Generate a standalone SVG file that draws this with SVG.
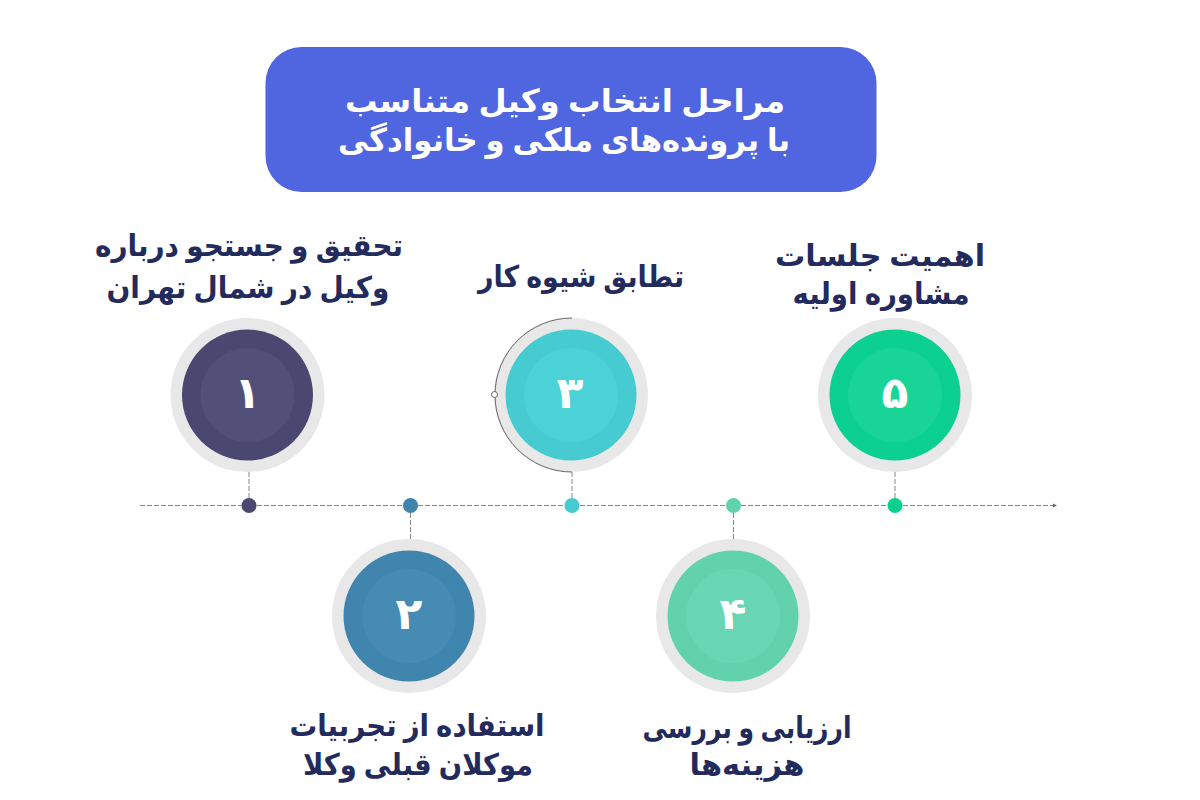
<svg xmlns="http://www.w3.org/2000/svg" width="1200" height="800" viewBox="0 0 1200 800">
<style>
text{font-family:"Noto Sans","DejaVu Sans",sans-serif;font-weight:700;text-anchor:middle;direction:rtl}
.h{fill:#fff;font-size:32px}
.l{fill:#232a5c;font-size:30px}
.n{fill:#fff;font-size:44px}
.halo{fill:#e8e8e8}
</style>
<rect width="1200" height="800" fill="#fff"/>
<g id="title"><rect x="265.500" y="47" width="611" height="145" rx="36" fill="#5065e0"/>
<text class="h" x="565" y="112" textLength="440" lengthAdjust="spacingAndGlyphs">مراحل انتخاب وکیل متناسب</text>
<text class="h" x="564" y="151" textLength="452" lengthAdjust="spacingAndGlyphs">با پرونده‌های ملکی و خانوادگی</text></g>
<g id="node1"><circle class="halo" cx="247.500" cy="395" r="77"/><circle cx="247.500" cy="395" r="65.500" fill="#4a4870"/><circle cx="247.500" cy="395" r="47" fill="#524f78"/><text class="n" x="247.500" y="408">۱</text><circle cx="249" cy="505.500" r="7.500" fill="#4a4870"/>
<text class="l" x="249" y="256" textLength="308" lengthAdjust="spacingAndGlyphs">تحقیق و جستجو درباره</text><text class="l" x="248" y="298" textLength="283" lengthAdjust="spacingAndGlyphs">وکیل در شمال تهران</text></g>
<g id="node2"><circle class="halo" cx="409" cy="616" r="77"/><circle cx="409" cy="616" r="65.500" fill="#3f85ad"/><circle cx="409" cy="616" r="47" fill="#458bb3"/><text class="n" x="409" y="629">۲</text><circle cx="410.500" cy="505.500" r="7.500" fill="#3f85ad"/>
<text class="l" x="417" y="736" textLength="255" lengthAdjust="spacingAndGlyphs">استفاده از تجربیات</text><text class="l" x="418" y="775" textLength="230" lengthAdjust="spacingAndGlyphs">موکلان قبلی وکلا</text></g>
<g id="node3"><circle class="halo" cx="571" cy="395" r="77"/><circle cx="571" cy="395" r="65.500" fill="#46cbd0"/><circle cx="571" cy="395" r="47" fill="#4bd2d6"/><text class="n" x="570" y="408">۳</text><circle cx="572" cy="505.500" r="7.500" fill="#46cbd0"/>
<text class="l" x="581" y="287" textLength="206" lengthAdjust="spacingAndGlyphs">تطابق شیوه کار</text></g>
<g id="node4"><circle class="halo" cx="733" cy="616" r="77"/><circle cx="733" cy="616" r="65.500" fill="#62d2ad"/><circle cx="733" cy="616" r="47" fill="#68d6b2"/><text class="n" x="733" y="629">۴</text><circle cx="733.500" cy="505.500" r="7.500" fill="#62d2ad"/>
<text class="l" x="747" y="738" textLength="209" lengthAdjust="spacingAndGlyphs">ارزیابی و بررسی</text><text class="l" x="747" y="775" textLength="115" lengthAdjust="spacingAndGlyphs">هزینه‌ها</text></g>
<g id="node5"><circle class="halo" cx="895" cy="395" r="77"/><circle cx="895" cy="395" r="65.500" fill="#0bd08f"/><circle cx="895" cy="395" r="47" fill="#18d597"/><text class="n" x="895" y="408">۵</text><circle cx="895" cy="505.500" r="7.500" fill="#0bd08f"/>
<text class="l" x="880" y="266" textLength="210" lengthAdjust="spacingAndGlyphs">اهمیت جلسات</text><text class="l" x="881" y="304" textLength="177" lengthAdjust="spacingAndGlyphs">مشاوره اولیه</text></g>
<g id="connectors" fill="none" stroke="#888" stroke-width="1">
<path d="M140 505.500H242M257 505.500H403M418 505.500H564M580 505.500H726M741 505.500H887M903 505.500H1054" stroke-dasharray="5 2"/>
<path d="M1053 503.500l4 2-4 2z" fill="#666" stroke="none"/>
<path d="M249 472V498M410.500 513V540M572 472V498M733.500 513V540M895 472V498" stroke-dasharray="5 2"/>
<path d="M572 472A77 77 0 0 1 572 318" stroke="#666"/>
<circle cx="494.500" cy="394.500" r="3" fill="#fff" stroke="#666"/>
</g>
</svg>
